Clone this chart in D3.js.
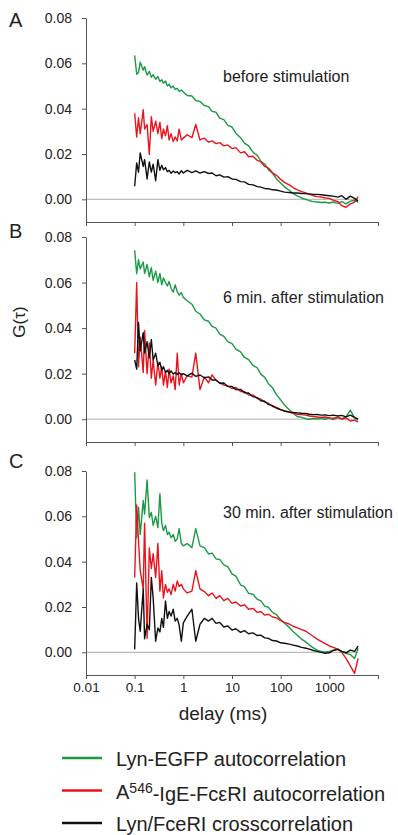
<!DOCTYPE html>
<html>
<head>
<meta charset="utf-8">
<script src="https://cdn.jsdelivr.net/npm/d3@7"></script>
<style>
  body { margin: 0; background: #fff; }
  text { font-family: "Liberation Sans", Arial, sans-serif; fill: #222; }
</style>
</head>
<body>
<svg id="chart" width="398" height="835"></svg>
<script>
// delay times (ms), shared by every curve
const delays = [0.10, 0.11, 0.12, 0.13, 0.15, 0.16, 0.18, 0.20, 0.22, 0.24, 0.27, 0.30,
  0.33, 0.36, 0.39, 0.43, 0.47, 0.51, 0.56, 0.62, 0.68, 0.75, 0.82, 0.91,
  1.0, 1.2, 1.5, 1.8, 2.2, 2.7, 3.3, 3.9, 4.7, 5.6, 6.8, 8.2,
  10, 12, 15, 18, 22, 27, 33, 39, 47, 56, 68, 82,
  100, 120, 150, 180, 220, 270, 330, 390, 470, 560, 680, 820,
  1000, 1200, 1500, 1800, 2200, 2700, 3300, 3900];

// A: before stimulation
const lynA = [0.0635, 0.0552, 0.0560, 0.0605, 0.0570, 0.0585, 0.0548, 0.0565, 0.0538, 0.0550, 0.0530, 0.0542,
  0.0520, 0.0528, 0.0512, 0.0522, 0.0500, 0.0508, 0.0492, 0.0500, 0.0485, 0.0490, 0.0476, 0.0482,
  0.0474, 0.0458, 0.0456, 0.0436, 0.0432, 0.0414, 0.0409, 0.0388, 0.0384, 0.0358, 0.0352, 0.0326,
  0.0319, 0.0292, 0.0272, 0.0248, 0.0236, 0.0208, 0.0194, 0.0168, 0.0156, 0.0131, 0.0115, 0.0090,
  0.0072, 0.0055, 0.0040, 0.0026, 0.0015, 0.0006, 0.0000, -0.0006, -0.0010, -0.0012, -0.0014, -0.0013,
  -0.0016, -0.0012, -0.0018, -0.0010, -0.0020, -0.0008, -0.0004, -0.0012];
const igeA = [0.0380, 0.0275, 0.0360, 0.0290, 0.0395, 0.0310, 0.0330, 0.0198, 0.0365, 0.0300, 0.0345, 0.0290,
  0.0340, 0.0268, 0.0310, 0.0280, 0.0325, 0.0262, 0.0290, 0.0255, 0.0275, 0.0258, 0.0310, 0.0262,
  0.0270, 0.0285, 0.0272, 0.0330, 0.0262, 0.0270, 0.0252, 0.0258, 0.0246, 0.0250, 0.0236, 0.0240,
  0.0224, 0.0228, 0.0205, 0.0210, 0.0188, 0.0190, 0.0172, 0.0166, 0.0145, 0.0138, 0.0117, 0.0106,
  0.0088, 0.0075, 0.0064, 0.0052, 0.0042, 0.0034, 0.0028, 0.0022, 0.0016, 0.0012, 0.0010, 0.0006,
  0.0004, -0.0004, -0.0010, -0.0028, -0.0035, -0.0020, -0.0012, 0.0012];
const crossA = [0.0058, 0.0160, 0.0120, 0.0205, 0.0145, 0.0175, 0.0090, 0.0165, 0.0120, 0.0155, 0.0082, 0.0175,
  0.0128, 0.0150, 0.0130, 0.0140, 0.0122, 0.0128, 0.0115, 0.0125, 0.0118, 0.0122, 0.0112, 0.0126,
  0.0116, 0.0128, 0.0118, 0.0126, 0.0116, 0.0122, 0.0114, 0.0116, 0.0104, 0.0108, 0.0098, 0.0100,
  0.0090, 0.0088, 0.0078, 0.0077, 0.0066, 0.0064, 0.0056, 0.0054, 0.0048, 0.0047, 0.0042, 0.0041,
  0.0036, 0.0032, 0.0030, 0.0028, 0.0028, 0.0026, 0.0025, 0.0024, 0.0022, 0.0022, 0.0020, 0.0018,
  0.0016, 0.0014, 0.0010, 0.0016, 0.0000, 0.0014, 0.0004, -0.0008];

// B: 6 min. after stimulation
const lynB = [0.0742, 0.0640, 0.0700, 0.0660, 0.0690, 0.0640, 0.0680, 0.0625, 0.0665, 0.0610, 0.0650, 0.0600,
  0.0640, 0.0590, 0.0620, 0.0600, 0.0585, 0.0605, 0.0575, 0.0558, 0.0590, 0.0560, 0.0545, 0.0555,
  0.0535, 0.0520, 0.0505, 0.0474, 0.0462, 0.0436, 0.0430, 0.0408, 0.0400, 0.0374, 0.0364, 0.0341,
  0.0332, 0.0308, 0.0296, 0.0271, 0.0262, 0.0236, 0.0226, 0.0198, 0.0184, 0.0156, 0.0138, 0.0108,
  0.0085, 0.0062, 0.0042, 0.0025, 0.0012, 0.0008, 0.0002, 0.0000, 0.0003, 0.0001, 0.0004, 0.0000,
  0.0006, -0.0002, 0.0008, 0.0002, 0.0010, 0.0040, 0.0006, -0.0002];
const igeB = [0.0290, 0.0600, 0.0230, 0.0360, 0.0205, 0.0390, 0.0200, 0.0335, 0.0180, 0.0260, 0.0150, 0.0250,
  0.0180, 0.0230, 0.0150, 0.0210, 0.0140, 0.0220, 0.0160, 0.0190, 0.0130, 0.0290, 0.0150, 0.0200,
  0.0160, 0.0190, 0.0185, 0.0290, 0.0130, 0.0185, 0.0160, 0.0195, 0.0170, 0.0160, 0.0150, 0.0145,
  0.0135, 0.0140, 0.0122, 0.0122, 0.0106, 0.0106, 0.0091, 0.0088, 0.0075, 0.0070, 0.0056, 0.0052,
  0.0042, 0.0036, 0.0030, 0.0026, 0.0022, 0.0020, 0.0018, 0.0014, 0.0012, 0.0010, 0.0008, 0.0010,
  0.0006, 0.0004, 0.0008, 0.0000, 0.0006, -0.0008, -0.0004, -0.0012];
const crossB = [0.0260, 0.0220, 0.0425, 0.0300, 0.0380, 0.0290, 0.0340, 0.0270, 0.0350, 0.0260, 0.0290, 0.0235,
  0.0250, 0.0215, 0.0230, 0.0205, 0.0215, 0.0200, 0.0212, 0.0198, 0.0205, 0.0196, 0.0204, 0.0195,
  0.0200, 0.0190, 0.0202, 0.0188, 0.0194, 0.0182, 0.0186, 0.0172, 0.0172, 0.0158, 0.0159, 0.0144,
  0.0144, 0.0130, 0.0131, 0.0116, 0.0115, 0.0099, 0.0095, 0.0081, 0.0079, 0.0065, 0.0060, 0.0048,
  0.0042, 0.0036, 0.0032, 0.0030, 0.0028, 0.0026, 0.0025, 0.0022, 0.0020, 0.0021, 0.0018, 0.0019,
  0.0016, 0.0018, 0.0014, 0.0017, 0.0010, 0.0018, 0.0008, 0.0000];

// C: 30 min. after stimulation
const lynC = [0.0795, 0.0506, 0.0640, 0.0520, 0.0670, 0.0610, 0.0760, 0.0595, 0.0617, 0.0560, 0.0600, 0.0550,
  0.0700, 0.0570, 0.0537, 0.0560, 0.0520, 0.0530, 0.0506, 0.0520, 0.0490, 0.0500, 0.0546, 0.0480,
  0.0470, 0.0480, 0.0462, 0.0546, 0.0470, 0.0462, 0.0434, 0.0438, 0.0412, 0.0410, 0.0386, 0.0378,
  0.0346, 0.0336, 0.0298, 0.0290, 0.0260, 0.0256, 0.0234, 0.0228, 0.0204, 0.0199, 0.0176, 0.0166,
  0.0145, 0.0128, 0.0110, 0.0092, 0.0075, 0.0058, 0.0045, 0.0032, 0.0020, 0.0010, 0.0004, 0.0002,
  0.0004, 0.0010, 0.0014, 0.0004, -0.0004, -0.0010, -0.0027, 0.0018];
const igeC = [0.0330, 0.0650, 0.0490, 0.0360, 0.0280, 0.0570, 0.0062, 0.0460, 0.0370, 0.0435, 0.0330, 0.0480,
  0.0270, 0.0360, 0.0240, 0.0300, 0.0265, 0.0280, 0.0255, 0.0300, 0.0270, 0.0315, 0.0290, 0.0300,
  0.0280, 0.0262, 0.0270, 0.0360, 0.0280, 0.0268, 0.0250, 0.0262, 0.0238, 0.0250, 0.0228, 0.0238,
  0.0216, 0.0222, 0.0204, 0.0210, 0.0190, 0.0194, 0.0176, 0.0180, 0.0164, 0.0168, 0.0156, 0.0152,
  0.0140, 0.0132, 0.0125, 0.0115, 0.0108, 0.0100, 0.0093, 0.0082, 0.0070, 0.0058, 0.0048, 0.0038,
  0.0028, 0.0022, 0.0014, 0.0000, -0.0027, -0.0060, -0.0093, -0.0027];
const crossC = [0.0013, 0.0306, 0.0150, 0.0093, 0.0280, 0.0060, 0.0124, 0.0100, 0.0330, 0.0240, 0.0049, 0.0107,
  0.0090, 0.0150, 0.0110, 0.0227, 0.0150, 0.0180, 0.0160, 0.0190, 0.0138, 0.0150, 0.0120, 0.0049,
  0.0130, 0.0160, 0.0190, 0.0049, 0.0124, 0.0150, 0.0138, 0.0150, 0.0128, 0.0132, 0.0112, 0.0116,
  0.0098, 0.0104, 0.0088, 0.0096, 0.0082, 0.0086, 0.0074, 0.0076, 0.0064, 0.0062, 0.0052, 0.0050,
  0.0042, 0.0040, 0.0036, 0.0032, 0.0028, 0.0022, 0.0018, 0.0014, 0.0008, 0.0004, 0.0000, -0.0004,
  -0.0002, 0.0008, 0.0013, 0.0004, -0.0002, 0.0010, 0.0004, 0.0027];

const xTicks = [0.01, 0.1, 1, 10, 100, 1000, 10000];
const xTickLabels = ['0.01', '0.1', '1', '10', '100', '1000', ''];
const yTicks = [0, 0.02, 0.04, 0.06, 0.08];

const seriesNames = ['Lyn-EGFP autocorrelation', 'A546-IgE-FcεRI autocorrelation', 'Lyn/FceRI crosscorrelation'];
const colors = ['#1a9a45', '#e8141c', '#111111'];

const panels = [
  { letter: 'A', note: 'before stimulation', top: 18, bottom: 222, letterY: 27, noteY: 82, series: [lynA, igeA, crossA] },
  { letter: 'B', note: '6 min. after stimulation', top: 237, bottom: 442, letterY: 238, noteY: 303, series: [lynB, igeB, crossB] },
  { letter: 'C', note: '30 min. after stimulation', top: 471, bottom: 675, letterY: 468, noteY: 518, series: [lynC, igeC, crossC] }
];

const svg = d3.select('#chart');
const x = d3.scaleLog().domain([0.01, 10000]).range([86, 378]);

panels.forEach((p, pi) => {
  const y = d3.scaleLinear().domain([-0.01, 0.08]).range([p.bottom, p.top]);
  const g = svg.append('g').attr('class', 'panel');

  // zero line
  g.append('line')
    .attr('x1', x(0.01)).attr('x2', x(3900))
    .attr('y1', y(0)).attr('y2', y(0))
    .attr('stroke', '#bdbdbd').attr('stroke-width', 1.2);

  const xAxis = d3.axisBottom(x).tickValues(xTicks).tickSize(4).tickSizeOuter(0)
    .tickFormat((d, i) => pi === 2 ? xTickLabels[i] : '');
  const xg = g.append('g').attr('transform', `translate(0,${p.bottom})`).call(xAxis);
  xg.selectAll('text').style('font-size', '13.5px');

  const yAxis = d3.axisLeft(y).tickValues(yTicks).tickSize(4).tickSizeOuter(0)
    .tickPadding(10).tickFormat(d3.format('.2f'));
  const yg = g.append('g').attr('transform', `translate(${x(0.01)},0)`).call(yAxis);
  yg.selectAll('text').style('font-size', '14px');

  [xg, yg].forEach(a => {
    a.select('.domain').attr('stroke', '#555');
    a.selectAll('.tick line').attr('stroke', '#555');
    a.selectAll('.tick text').attr('fill', '#333');
  });

  const line = d3.line().x((d, i) => x(delays[i])).y(d => y(d));
  p.series.forEach((vals, si) => {
    g.append('path').datum(vals)
      .attr('d', line)
      .attr('fill', 'none')
      .attr('stroke', colors[si])
      .attr('stroke-width', 1.4)
      .attr('stroke-linejoin', 'round');
  });

  g.append('text').attr('x', 9).attr('y', p.letterY)
    .style('font-size', '20px').text(p.letter);

  g.append('text').attr('x', 223).attr('y', p.noteY)
    .style('font-size', '16px').text(p.note);
});

// axis titles
svg.append('text').attr('x', 223).attr('y', 720).attr('text-anchor', 'middle')
  .style('font-size', '19px').text('delay (ms)');
svg.append('text').attr('transform', 'translate(25,322) rotate(-90)')
  .attr('text-anchor', 'middle').style('font-size', '17px').text('G(τ)');

// legend
const legend = svg.append('g');
seriesNames.forEach((name, i) => {
  const ly = 758 + i * 32.5;
  legend.append('line').attr('x1', 62).attr('x2', 102).attr('y1', ly).attr('y2', ly)
    .attr('stroke', colors[i]).attr('stroke-width', 2.5);
  const t = legend.append('text').attr('x', 116).attr('y', ly + 2).attr('dy', '0.3em')
    .style('font-size', '20px');
  if (i === 1) {
    t.append('tspan').text('A');
    t.append('tspan').attr('dy', '-0.4em').style('font-size', '14px').text('546');
    t.append('tspan').attr('dy', '0.4em').text('-IgE-FcεRI autocorrelation');
  } else {
    t.text(name);
  }
});
</script>
</body>
</html>
